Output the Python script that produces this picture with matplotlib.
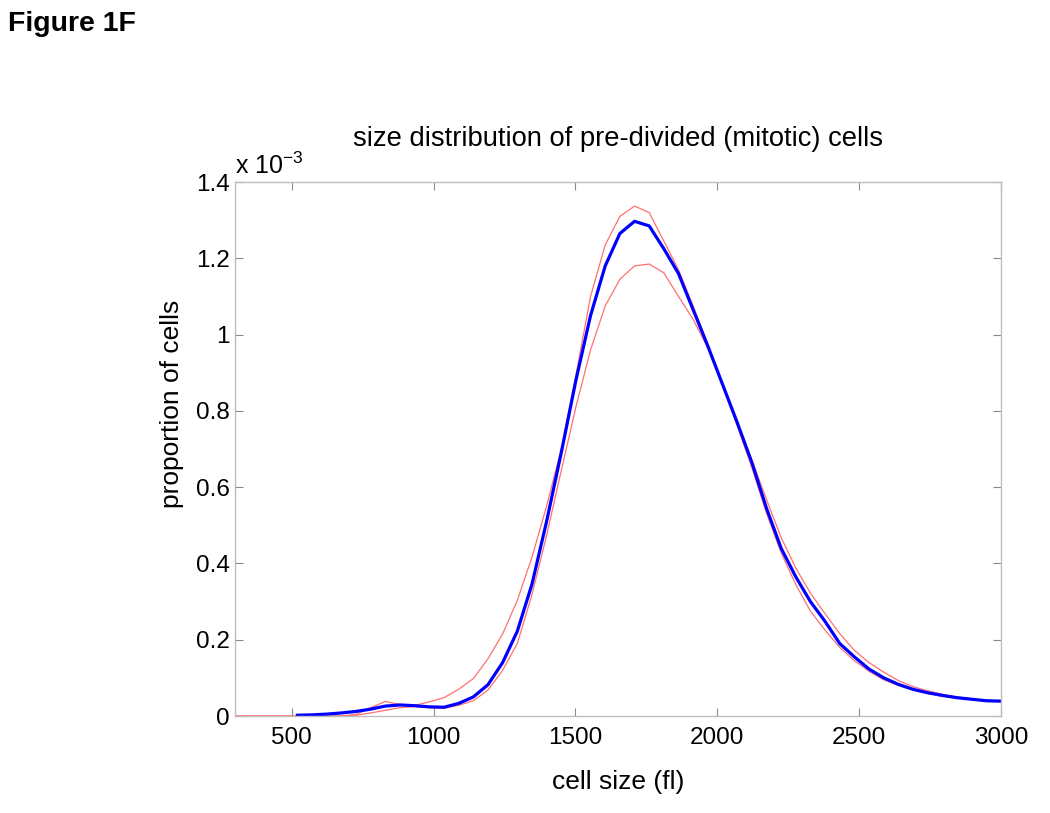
import numpy as np
import matplotlib
matplotlib.use("Agg")
import matplotlib.pyplot as plt

plt.rcParams['font.family'] = ['Liberation Sans', 'DejaVu Sans']
plt.rcParams['mathtext.fontset'] = 'custom'
plt.rcParams['mathtext.rm'] = 'Liberation Sans'
plt.rcParams['mathtext.it'] = 'Liberation Sans'

# cell size bins (fl)
size_fl = np.linspace(520, 3000, 49)

# proportion of cells, in units of 1e-3
mean_prop = [0.002, 0.003, 0.005, 0.008, 0.012, 0.018, 0.026, 0.029, 0.027, 0.024,
             0.023, 0.033, 0.050, 0.082, 0.140, 0.222, 0.345, 0.510, 0.690, 0.880,
             1.050, 1.180, 1.265, 1.297, 1.285, 1.225, 1.160, 1.065, 0.970, 0.870,
             0.770, 0.665, 0.545, 0.440, 0.365, 0.300, 0.248, 0.190, 0.155, 0.123,
             0.100, 0.083, 0.070, 0.061, 0.054, 0.048, 0.044, 0.040, 0.039]

upper_prop = [0.0, 0.0, 0.0, 0.0, 0.004, 0.022, 0.038, 0.030, 0.028, 0.037,
              0.048, 0.070, 0.098, 0.150, 0.215, 0.303, 0.416, 0.550, 0.700, 0.893,
              1.100, 1.235, 1.310, 1.337, 1.320, 1.245, 1.170, 1.075, 0.975, 0.870,
              0.772, 0.672, 0.568, 0.468, 0.388, 0.322, 0.268, 0.216, 0.172, 0.140,
              0.115, 0.093, 0.077, 0.066, 0.057, 0.050, 0.045, 0.041, 0.039]

lower_prop = [0.0, 0.0, 0.0, 0.0, 0.002, 0.008, 0.015, 0.022, 0.025, 0.022,
              0.020, 0.028, 0.040, 0.068, 0.120, 0.190, 0.318, 0.473, 0.643, 0.810,
              0.960, 1.075, 1.145, 1.180, 1.185, 1.162, 1.100, 1.040, 0.965, 0.868,
              0.762, 0.652, 0.532, 0.428, 0.345, 0.275, 0.225, 0.180, 0.145, 0.117,
              0.095, 0.080, 0.068, 0.059, 0.052, 0.047, 0.043, 0.040, 0.038]

# red curves start at 300 with zero
red_x = np.concatenate([[300], size_fl])
upper_y = np.concatenate([[0.0], upper_prop])
lower_y = np.concatenate([[0.0], lower_prop])

fig = plt.figure(figsize=(10.5, 8.13), dpi=100)
ax = fig.add_axes([0.2238, 0.1193, 0.7295, 0.6568])

ax.plot(red_x, upper_y, color='#ff7070', lw=0.9)
ax.plot(red_x, lower_y, color='#ff7070', lw=0.9)
ax.plot(size_fl, mean_prop, color='#0000ff', lw=2.3)

ax.set_xlim(300, 3000)
ax.set_ylim(0, 1.4)
ax.set_xticks([500, 1000, 1500, 2000, 2500, 3000])
ax.set_yticks([0, 0.2, 0.4, 0.6, 0.8, 1.0, 1.2, 1.4])
ax.set_yticklabels(['0', '0.2', '0.4', '0.6', '0.8', '1', '1.2', '1.4'])

for s in ax.spines.values():
    s.set_color('#bdbdbd')
    s.set_linewidth(1.0)
ax.tick_params(direction='in', length=6, width=0.8, color='#888888',
               top=True, right=True, labelsize=17.5)
ax.tick_params(axis='x', pad=8)
ax.tick_params(axis='y', pad=4)

ax.set_xlabel('cell size (fl)', fontsize=19, labelpad=15)
ax.set_ylabel('proportion of cells', fontsize=19, labelpad=7)
ax.yaxis.set_label_coords(-0.066, 0.585)
ax.set_title('size distribution of pre-divided (mitotic) cells', fontsize=19.7, pad=26)

ax.text(0.0, 1.006, r'x 10$^{-3}$', transform=ax.transAxes, fontsize=18,
        ha='left', va='bottom')

fig.text(0.008, 0.986, 'Figure 1F', fontsize=20.5, fontweight='bold',
         ha='left', va='top')

fig.savefig('out.png', dpi=100)
